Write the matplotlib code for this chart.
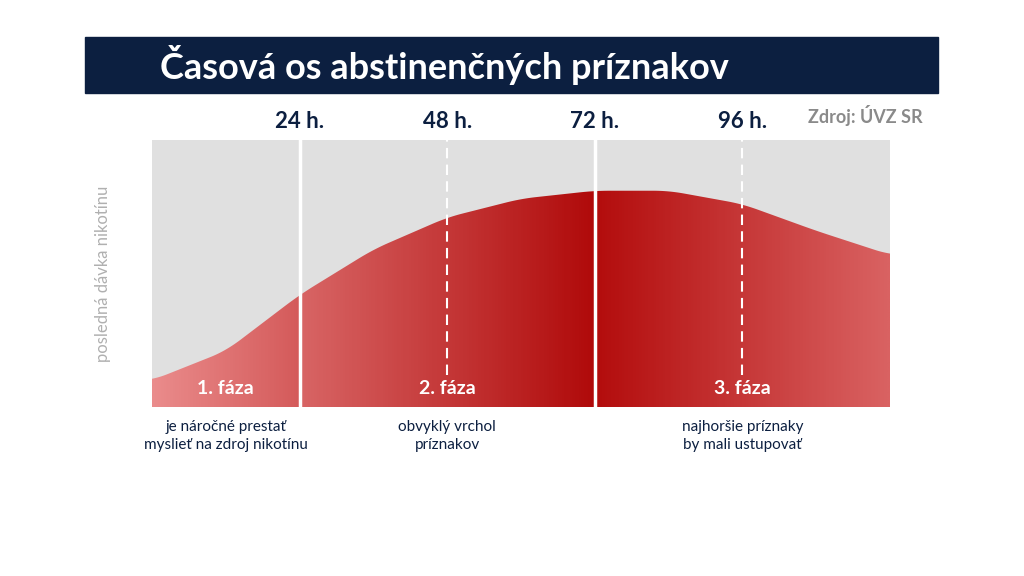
import numpy as np
import matplotlib
matplotlib.use("Agg")
import matplotlib.pyplot as plt
from matplotlib.patches import Rectangle
from matplotlib.colors import LinearSegmentedColormap

plt.rcParams['font.family'] = ['Lato', 'DejaVu Sans']

hours = [0, 12, 24, 36, 48, 60, 72, 84, 96, 108, 120]
intensity = [10, 21, 42, 59, 71, 78, 81, 81, 76, 66, 57]
tick_hours = [24, 48, 72, 96]
tick_labels = ["24 h.", "48 h.", "72 h.", "96 h."]
solid_lines = [24, 72]
dashed_lines = [48, 96]
phase_labels = ["1. fáza", "2. fáza", "3. fáza"]
phase_centers = [12, 48, 96]
phase_notes = ["je náročné prestať\nmyslieť na zdroj nikotínu", "obvyklý vrchol\npríznakov",
               "najhoršie príznaky\nby mali ustupovať"]
navy = "#0c1f40"

fig = plt.figure(figsize=(10.24, 5.76), dpi=100)
fig.patch.set_facecolor("white")
fig.add_artist(Rectangle((85/1024, 1-93/576), 853/1024, 56/576, transform=fig.transFigure,
                         color=navy, zorder=0))
fig.text(160/1024, 1-65/576, "Časová os abstinenčných príznakov", color="white",
         fontsize=26, fontweight="bold", va="center")
fig.text(923/1024, 1-116/576, "Zdroj: ÚVZ SR", color="#8a8a8a", fontsize=13,
         fontweight="bold", ha="right", va="center")

ax = fig.add_axes([152/1024, 1-407/576, 738/1024, 267/576])
ax.set_xlim(0, 120)
ax.set_ylim(0, 100)
ax.set_facecolor("#e0e0e0")
for s in ax.spines.values():
    s.set_visible(False)
ax.set_xticks([]); ax.set_yticks([])

xs = np.linspace(0, 120, 600)
from numpy import interp
# smooth via cubic-ish interpolation using numpy polyfit pieces
import numpy.polynomial.polynomial as P
ys = np.interp(xs, hours, intensity)
k = np.ones(25)/25
ys = np.convolve(np.pad(ys, 12, mode='edge'), k, mode='valid')
poly = ax.fill_between(xs, 0, ys, color="none")

cmap = LinearSegmentedColormap.from_list("g", [
    (0.0, "#ea8b8b"), (0.2, "#d45a5a"), (0.2001, "#d86565"), (0.6, "#b00a0a"),
    (0.6001, "#b30c0c"), (1.0, "#d96262")])
grad = np.linspace(0, 1, 600).reshape(1, -1)
im = ax.imshow(grad, extent=[0, 120, 0, 100], aspect="auto", cmap=cmap, zorder=1)
path = poly.get_paths()[0]
im.set_clip_path(path, transform=ax.transData)

for h in solid_lines:
    ax.axvline(h, color="white", lw=2.5, zorder=3)
for h in dashed_lines:
    ax.plot([h, h], [12, 100], color="white", lw=1.5, ls=(0, (5, 3)), zorder=3)
for h, lab in zip(tick_hours, tick_labels):
    ax.text(h, 107, lab, ha="center", va="center", fontsize=16, fontweight="bold",
            color=navy, clip_on=False)
for c, lab in zip(phase_centers, phase_labels):
    ax.text(c, 7, lab, ha="center", va="center", fontsize=14, fontweight="bold",
            color="white", zorder=4)
for c, lab in zip(phase_centers, phase_notes):
    ax.text(c, -5, lab, ha="center", va="top", fontsize=11, color=navy,
            clip_on=False, linespacing=1.3)
ax.text(-8, 50, "posledná dávka nikotínu", rotation=90, ha="center", va="center",
        fontsize=12, color="#b0b0b0", clip_on=False)

fig.savefig("out.png", dpi=100)
